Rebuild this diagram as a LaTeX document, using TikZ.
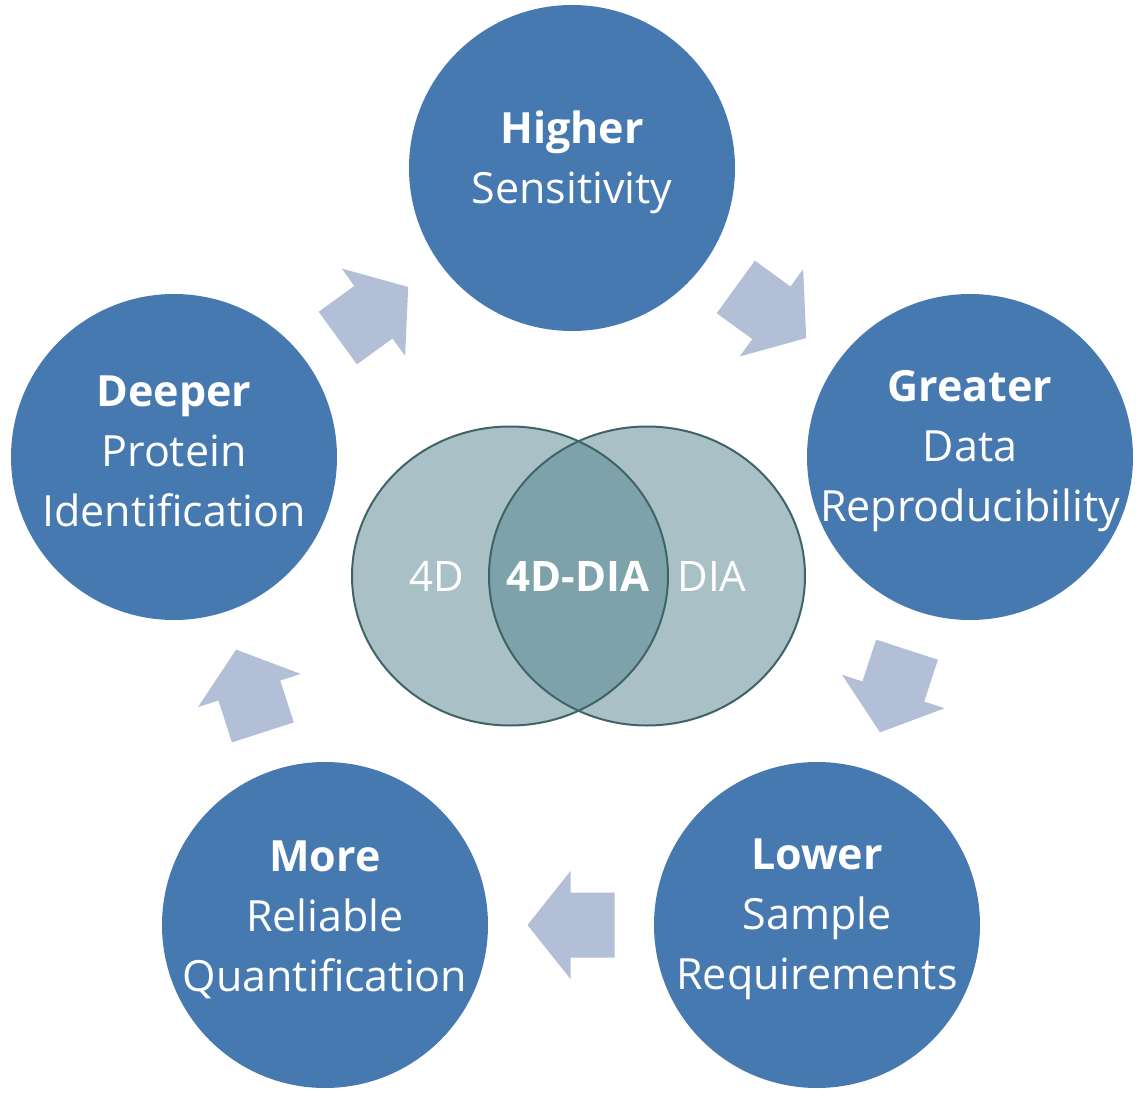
\documentclass[tikz,border=0pt]{standalone}
\usepackage{fontspec}
\setmainfont{Open Sans}
\usetikzlibrary{shapes.geometric}
\definecolor{dotblue}{HTML}{4779B1}
\definecolor{arrowgrey}{HTML}{B2BFD7}
\definecolor{venngreen}{HTML}{53838D}
\definecolor{vennedge}{HTML}{3E6467}

\tikzset{
  bubble/.style={circle, fill=dotblue, minimum size=163pt, inner sep=0pt},
  bubbletext/.style={text=white, align=center, yshift=2.75pt,
    font=\fontsize{21.5}{30}\selectfont},
  venn/.style={ellipse, fill=venngreen, fill opacity=0.5,
    minimum width=158pt, minimum height=149.5pt, inner sep=0pt},
  venntext/.style={text=white, font=\fontsize{21}{25}\selectfont},
  blockarrow/.pic={
    \fill[arrowgrey] (-43.5,-32.5) -- (0.5,-32.5) -- (0.5,-54) -- (43.5,0)
      -- (0.5,54) -- (0.5,32.5) -- (-43.5,32.5) -- cycle;}
}

\begin{document}
\begin{tikzpicture}[x=0.5pt, y=-0.5pt]
  \useasboundingbox (0,0) rectangle (1147,1097);

  % the five benefits
  \node[bubble] (sens) at (572,168) {};
  \node[bubble] (repro) at (970,457) {};
  \node[bubble] (sample) at (817,925) {};
  \node[bubble] (quant) at (325,925) {};
  \node[bubble] (ident) at (174,457) {};

  \node[bubbletext] (senstext) at (sens) {\textbf{Higher}\\Sensitivity};
  \node[bubbletext] (reprotext) at (repro) {\textbf{Greater}\\Data\\Reproducibility};
  \node[bubbletext] (sampletext) at (sample) {\textbf{Lower}\\Sample\\Requirements};
  \node[bubbletext] (quanttext) at (quant) {\textbf{More}\\Reliable\\Quantification};
  \node[bubbletext] (identtext) at (ident) {\textbf{Deeper}\\Protein\\Identification};

  % arrows round the cycle
  \path (sens) -- (repro) pic[pos=0.5, sloped, allow upside down] {blockarrow};
  \path (repro) -- (sample) pic[pos=0.5, sloped, allow upside down] {blockarrow};
  \path (sample) -- (quant) pic[pos=0.5, sloped, allow upside down] {blockarrow};
  \path (quant) -- (ident) pic[pos=0.5, sloped, allow upside down] {blockarrow};
  \path (ident) -- (sens) pic[pos=0.5, sloped, allow upside down] {blockarrow};

  % venn diagram in the middle
  \node[venn] (fourd) at (510,576) {};
  \node[venn] (dia) at (647,576) {};
  \draw[vennedge, line width=1pt] (fourd.center) ellipse (158 and 149.5);
  \draw[vennedge, line width=1pt] (dia.center) ellipse (158 and 149.5);

  \node[venntext] (fourdlabel) at (437,576) {4D};
  \node[venntext] (dialabel) at (712,576) {DIA};
  \node[venntext] (bothlabel) at (578,576) {\textbf{4D-DIA}};
\end{tikzpicture}
\end{document}
